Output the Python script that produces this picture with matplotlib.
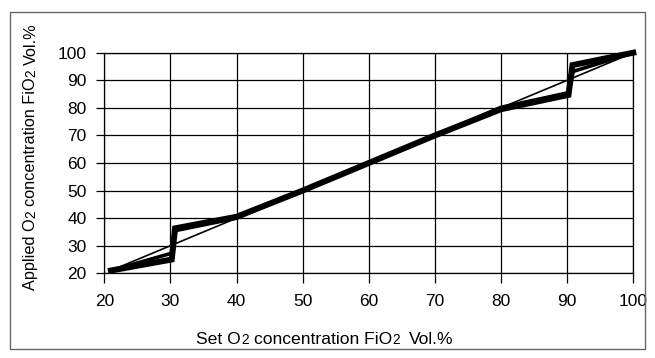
import matplotlib.pyplot as plt
from matplotlib.patches import Rectangle

# Data
set_o2 = [21, 100]
ideal_o2 = [21, 100]

set_a = [21, 30.2, 30.7, 40, 50, 60, 70, 80, 90.2, 90.8, 100]
applied_a = [21, 25, 36.3, 40.5, 50, 60, 70, 79.5, 84.7, 95.5, 100]

set_b = [21, 30.2, 30.8, 40, 50, 60, 70, 80, 90.2, 90.9, 100]
applied_b = [21, 27.3, 35.5, 40, 50, 60, 70, 80.2, 85.5, 93.2, 100]

ticks = [20, 30, 40, 50, 60, 70, 80, 90, 100]

plt.rcParams['font.family'] = ['Liberation Sans', 'DejaVu Sans']

fig = plt.figure(figsize=(6.55, 3.58), dpi=100)
ax = fig.add_axes([104.3 / 655, (358 - 273.3) / 358, 529 / 655, 220.6 / 358])

# Lines
ax.plot(set_o2, ideal_o2, color='black', lw=1.2, clip_on=False, zorder=3)
ax.plot(set_b, applied_b, color='black', lw=2.6, clip_on=False, zorder=3,
        solid_joinstyle='miter')
ax.plot(set_a, applied_a, color='black', lw=4.3, clip_on=False, zorder=4,
        solid_joinstyle='miter')

ax.set_xlim(20, 100)
ax.set_ylim(20, 100)
ax.set_xticks(ticks)
ax.set_yticks(ticks)
ax.set_axisbelow(True)
ax.grid(True, color='black', lw=0.9)
for sp in ax.spines.values():
    sp.set_linewidth(0.9)
ax.tick_params(axis='x', length=7.2, width=0.9, pad=8, labelsize=12.5)
ax.tick_params(axis='y', length=5.8, width=0.9, pad=7, labelsize=12.5)

# Axis labels with smaller "2"
def chain_label(parts, x, y, vertical=False):
    text, size, gap = parts[0]
    if vertical:
        prev = fig.text(x, y, text, fontsize=size, rotation=90, ha='center', va='bottom')
    else:
        prev = fig.text(x, y, text, fontsize=size, ha='left', va='bottom')
    for text, size, gap in parts[1:]:
        if vertical:
            prev = ax.annotate(text, xy=(1, 1), xycoords=prev, xytext=(0, gap),
                               textcoords='offset points', fontsize=size,
                               rotation=90, ha='right', va='bottom',
                               annotation_clip=False)
        else:
            prev = ax.annotate(text, xy=(1, 0), xycoords=prev, xytext=(gap, 0),
                               textcoords='offset points', fontsize=size,
                               ha='left', va='bottom', annotation_clip=False)

chain_label([('Set O', 12.6, 0), ('2', 9.8, 0.4), ('concentration FiO', 12.6, 3.6),
             ('2', 9.8, 0.4), ('Vol.%', 12.6, 6.5)], 196 / 655, 0.031)
chain_label([('Applied O', 11.7, 0), ('2', 9.8, 0.3), ('concentration FiO', 11.7, 3.2),
             ('2', 9.8, 0.3), ('Vol.%', 11.7, 3.2)], 31 / 655, (358 - 290) / 358,
            vertical=True)

# Frame around the figure
fig.patches.append(Rectangle((10 / 655, 9 / 358), 635 / 655, 337 / 358,
                             transform=fig.transFigure, fill=False,
                             ec='#666666', lw=1))

fig.savefig('out.png', dpi=100)
